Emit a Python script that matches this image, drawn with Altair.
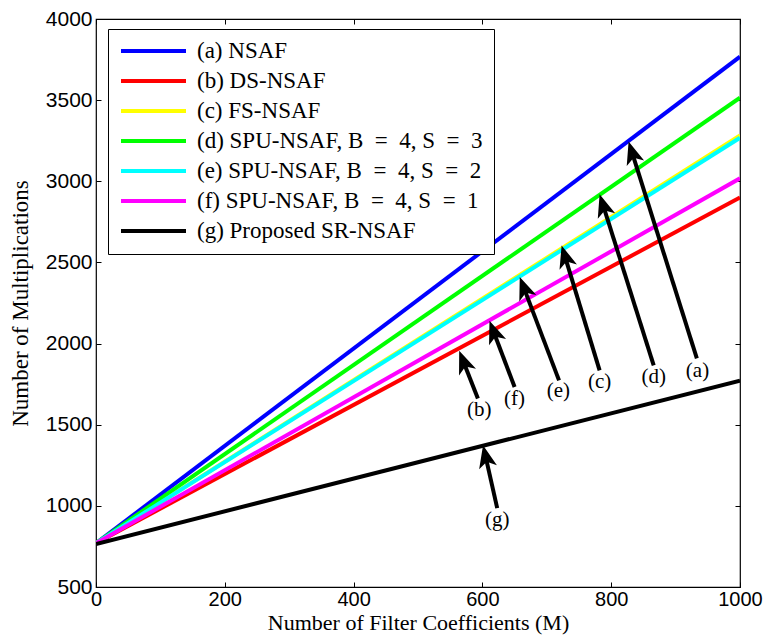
import math
import altair as alt
import pandas as pd

# ---------------- data ----------------
series_names = [
    "(a) NSAF",
    "(b) DS-NSAF",
    "(c) FS-NSAF",
    "(d) SPU-NSAF, B\u2002=\u20024, S\u2002=\u20023",
    "(e) SPU-NSAF, B\u2002=\u20024, S\u2002=\u20022",
    "(f) SPU-NSAF, B\u2002=\u20024, S\u2002=\u20021",
    "(g) Proposed SR-NSAF",
]
series_colors = ["#0000FF", "#FF0000", "#FFFF00", "#00FF00", "#00FFFF", "#FF00FF", "#000000"]

M = [0, 1000]
nsaf = [770, 3768]
ds_nsaf = [770, 2900]
fs_nsaf = [770, 3282]
spu_s3 = [770, 3515]
spu_s2 = [770, 3268]
spu_s1 = [770, 3018]
sr_nsaf = [765, 1772]

series_values = [nsaf, ds_nsaf, fs_nsaf, spu_s3, spu_s2, spu_s1, sr_nsaf]

# annotation arrows: label, tip (x, y), tail (x, y), label position (x, y)
ann_labels = ["(a)", "(d)", "(c)", "(e)", "(f)", "(b)", "(g)"]
tip_x = [827, 782, 723, 658, 611, 564, 601]
tip_y = [3245, 2920, 2605, 2410, 2140, 1955, 1374]
tail_x = [933, 866, 782, 719, 650, 593, 623]
tail_y = [1909, 1866, 1835, 1773, 1732, 1661, 986]
text_x = [934, 866, 782, 718, 650, 595, 623]
text_y = [1830, 1792, 1762, 1706, 1660, 1588, 914]

# ---------------- layout ----------------
W, H = 644, 568
X_DOM = [0, 1000]
Y_DOM = [500, 4000]
kx = W / (X_DOM[1] - X_DOM[0])
ky = H / (Y_DOM[1] - Y_DOM[0])

rows = []
for name, vals in zip(series_names, series_values):
    for m, v in zip(M, vals):
        rows.append({"series": name, "M": m, "mult": v})
lines_df = pd.DataFrame(rows)

HEAD_UNIT = 13.0  # px per unit of arrow-head path
arr_rows = []
for lab, tx, ty, sx, sy, lx, ly in zip(ann_labels, tip_x, tip_y, tail_x, tail_y, text_x, text_y):
    dxp = (tx - sx) * kx           # screen dx (right positive)
    dys = -(ty - sy) * ky          # screen dy (down positive)
    ang = math.degrees(math.atan2(dxp, -dys)) % 360  # clockwise from "up"
    L = math.hypot(dxp, dys)
    back = 1.1 * HEAD_UNIT
    ex = tx - (tx - sx) * back / L
    ey = ty - (ty - sy) * back / L
    arr_rows.append({"label": lab, "tx": tx, "ty": ty, "sx": sx, "sy": sy,
                     "ex": ex, "ey": ey, "lx": lx, "ly": ly, "angle": ang})
arr_df = pd.DataFrame(arr_rows)

xs = alt.Scale(domain=X_DOM, nice=False, zero=False)
ys = alt.Scale(domain=Y_DOM, nice=False, zero=False)

TICK_FONT = "Liberation Sans, Arial, Helvetica"
SERIF = "Liberation Serif, Times New Roman, serif"

x_ticks = [0, 200, 400, 600, 800, 1000]
y_ticks = [500, 1000, 1500, 2000, 2500, 3000, 3500, 4000]

lines = alt.Chart(lines_df).mark_line(strokeWidth=4, clip=True).encode(
    x=alt.X("M:Q", scale=xs, axis=alt.Axis(
        orient="bottom", values=x_ticks, format="d", offset=-5, tickSize=5,
        domain=False, grid=False, labelFont=TICK_FONT, labelFontSize=20,
        labelFlush=False, labelPadding=2, labelColor="black", tickColor="black",
        title="Number of Filter Coefficients (M)", titleFont=SERIF,
        titleFontSize=22, titleFontWeight="normal", titleColor="black", titlePadding=3)),
    y=alt.Y("mult:Q", scale=ys, axis=alt.Axis(
        orient="left", values=y_ticks, format="d", offset=-5, tickSize=5,
        domain=False, grid=False, labelFont=TICK_FONT, labelFontSize=21,
        labelFlush=False, labelPadding=4, labelColor="black", tickColor="black",
        title="Number of Multiplications", titleFont=SERIF,
        titleFontSize=23, titleFontWeight="normal", titleColor="black", titlePadding=13)),
    color=alt.Color("series:N", scale=alt.Scale(domain=series_names, range=series_colors),
                    sort=series_names,
                    legend=alt.Legend(
                        title=None, orient="none", legendX=12, legendY=10,
                        fillColor="white", strokeColor="black", padding=11,
                        symbolType="stroke", symbolStrokeWidth=4, symbolSize=4225,
                        clipHeight=22, rowPadding=7, labelOffset=9,
                        labelFont=SERIF, labelFontSize=23, labelColor="black",
                        labelLimit=0, symbolOpacity=1)),
    order=alt.Order("series:N"),
)

ticks2 = alt.Chart(lines_df).mark_point(opacity=0).encode(
    x=alt.X("M:Q", scale=xs, axis=alt.Axis(
        orient="top", values=x_ticks, offset=-5, tickSize=5, domain=False,
        labels=False, title=None, grid=False, tickColor="black")),
    y=alt.Y("mult:Q", scale=ys, axis=alt.Axis(
        orient="right", values=y_ticks, offset=-5, tickSize=5, domain=False,
        labels=False, title=None, grid=False, tickColor="black")),
)

shafts = alt.Chart(arr_df).mark_rule(strokeWidth=4, color="black").encode(
    x=alt.X("sx:Q", scale=xs, axis=None),
    y=alt.Y("sy:Q", scale=ys, axis=None),
    x2="ex:Q",
    y2="ey:Q",
)

HEAD_PATH = "M0,0L0.7,1.75L0,1.3L-0.7,1.75Z"
heads = alt.Chart(arr_df).mark_point(
    shape=HEAD_PATH, filled=True, color="black", opacity=1,
    size=(2 * HEAD_UNIT) ** 2, strokeWidth=0).encode(
    x=alt.X("tx:Q", scale=xs, axis=None),
    y=alt.Y("ty:Q", scale=ys, axis=None),
    angle=alt.Angle("angle:Q", scale=None),
)

texts = alt.Chart(arr_df).mark_text(
    font=SERIF, fontSize=21, color="black", align="center", baseline="middle").encode(
    x=alt.X("lx:Q", scale=xs, axis=None),
    y=alt.Y("ly:Q", scale=ys, axis=None),
    text="label:N",
)

chart = alt.layer(lines, ticks2, shafts, heads, texts).resolve_axis(
    x="independent", y="independent"
).properties(
    width=W, height=H,
    autosize=alt.AutoSizeParams(type="none"),
    padding={"left": 88, "top": 11, "right": 23, "bottom": 48},
).configure_view(stroke="black", strokeWidth=1.2)

chart.save("out.html", embed_options={"renderer": "svg", "actions": False})
